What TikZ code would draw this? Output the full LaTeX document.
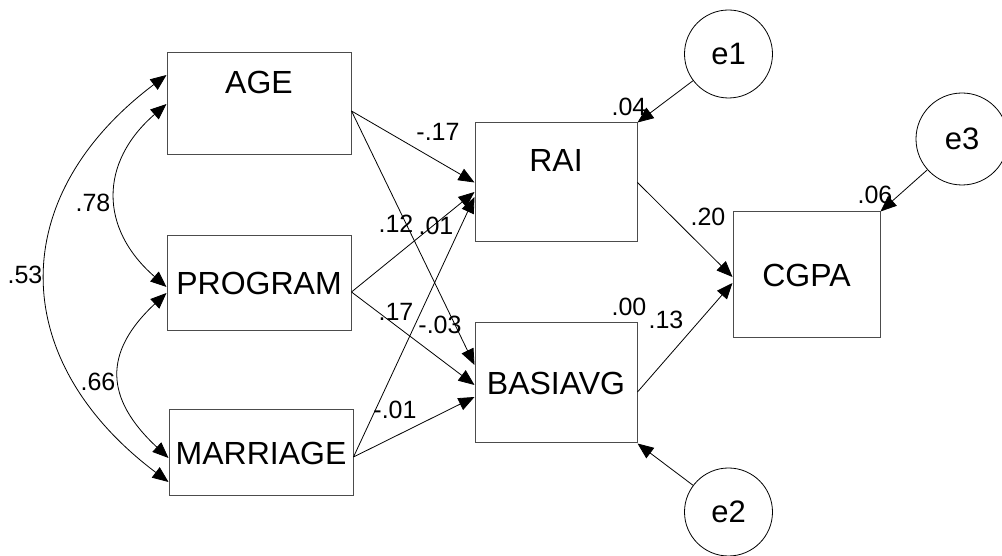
\documentclass[tikz,border=0pt]{standalone}
\usepackage{fontspec}
\setmainfont{Liberation Sans}
\usetikzlibrary{positioning,arrows.meta,calc}

\begin{document}
\begin{tikzpicture}[x=1pt,y=1pt]
\tikzset{
    obs/.style={rectangle, draw=black!70, line width=1pt, inner sep=0pt, font=\fontsize{32}{38}\selectfont},
    err/.style={circle, draw=black, line width=0.8pt, minimum size=88pt, inner sep=0pt, font=\fontsize{31}{37}\selectfont},
    coef/.style={font=\fontsize{25}{30}\selectfont, inner sep=0pt},
    effect/.style={line width=0.8pt, -{Triangle[length=16pt,width=13pt]}},
    cov/.style={line width=0.8pt, {Triangle[length=16pt,width=13pt]}-{Triangle[length=16pt,width=13pt]}}
}
\useasboundingbox (0,0) rectangle (1002,556);

% exogenous variables
\node[obs, minimum width=184pt, minimum height=102pt, label={[font=\fontsize{32}{38}\selectfont, yshift=22pt]center:AGE}] (age) at (259,452) {};
\node[obs, minimum width=184pt, minimum height=95pt] (program) at (259,272.5) {PROGRAM};
\node[obs, minimum width=184pt, minimum height=86pt] (marriage) at (261,103) {MARRIAGE};

% mediators and outcome
\node[obs, minimum width=162pt, minimum height=119pt, label={[font=\fontsize{32}{38}\selectfont, yshift=22pt]center:RAI}] (rai) at (556,373.5) {};
\node[obs, minimum width=162pt, minimum height=120pt] (basiavg) at (556,173) {BASIAVG};
\node[obs, minimum width=147pt, minimum height=126pt] (cgpa) at (806.5,281) {CGPA};

% error terms
\node[err] (e1) at (728.5,502) {e1};
\node[err, minimum size=92pt] (e3) at (962,417) {e3};
\node[err] (e2) at (728.5,44) {e2};

% regression paths
\draw[effect] ([yshift=-7pt]age.east) -- (rai.west);
\draw[effect] ([yshift=-7pt]age.east) -- ([yshift=18pt]basiavg.west);
\draw[effect] ([yshift=-8.5pt]program.east) -- ([yshift=-9.5pt]rai.west);
\draw[effect] ([yshift=-8.5pt]program.east) -- ([yshift=-2pt]basiavg.west);
\draw[effect] ([yshift=-4pt]marriage.east) -- ([yshift=-14.5pt]rai.west);
\draw[effect] ([yshift=-4pt]marriage.east) -- ([yshift=-14pt]basiavg.west);
\draw[effect] (rai.east) -- ([yshift=-2pt]cgpa.west);
\draw[effect] ([yshift=-9pt]basiavg.east) -- ([yshift=-8pt]cgpa.west);
\draw[effect] (e1) -- (rai.north east);
\draw[effect] (e3) -- (cgpa.north east);
\draw[effect] (e2) -- (basiavg.south east);

% covariances
\draw[cov] ([yshift=29pt]age.west) to[out=217,in=143,looseness=1.27] ([yshift=-29pt]marriage.west);
\draw[cov] (age.west) to[out=221,in=139,looseness=1.25] ([yshift=-3.5pt]program.west);
\draw[cov] ([yshift=-9.5pt]program.west) to[out=223,in=137,looseness=1.35] ([yshift=-5pt]marriage.west);

% estimates
\node[coef] (b-age-rai) at (438,424) {-.17};
\node[coef] (b-age-bas) at (396,332) {.12};
\node[coef] (b-mar-rai) at (436,330) {.01};
\node[coef] (b-pro-bas) at (396,244) {.17};
\node[coef] (b-pro-rai) at (440,231) {-.03};
\node[coef] (b-mar-bas) at (395,146) {-.01};
\node[coef] (r-age-pro) at (93,353) {.78};
\node[coef] (r-age-mar) at (25,281) {.53};
\node[coef] (r-pro-mar) at (98,174) {.66};
\node[coef] (sq-rai) at (629,449) {.04};
\node[coef] (sq-cgpa) at (875,361) {.06};
\node[coef] (sq-bas) at (629,249) {.00};
\node[coef] (b-rai-cgpa) at (708,339) {.20};
\node[coef] (b-bas-cgpa) at (666,236) {.13};
\end{tikzpicture}
\end{document}
